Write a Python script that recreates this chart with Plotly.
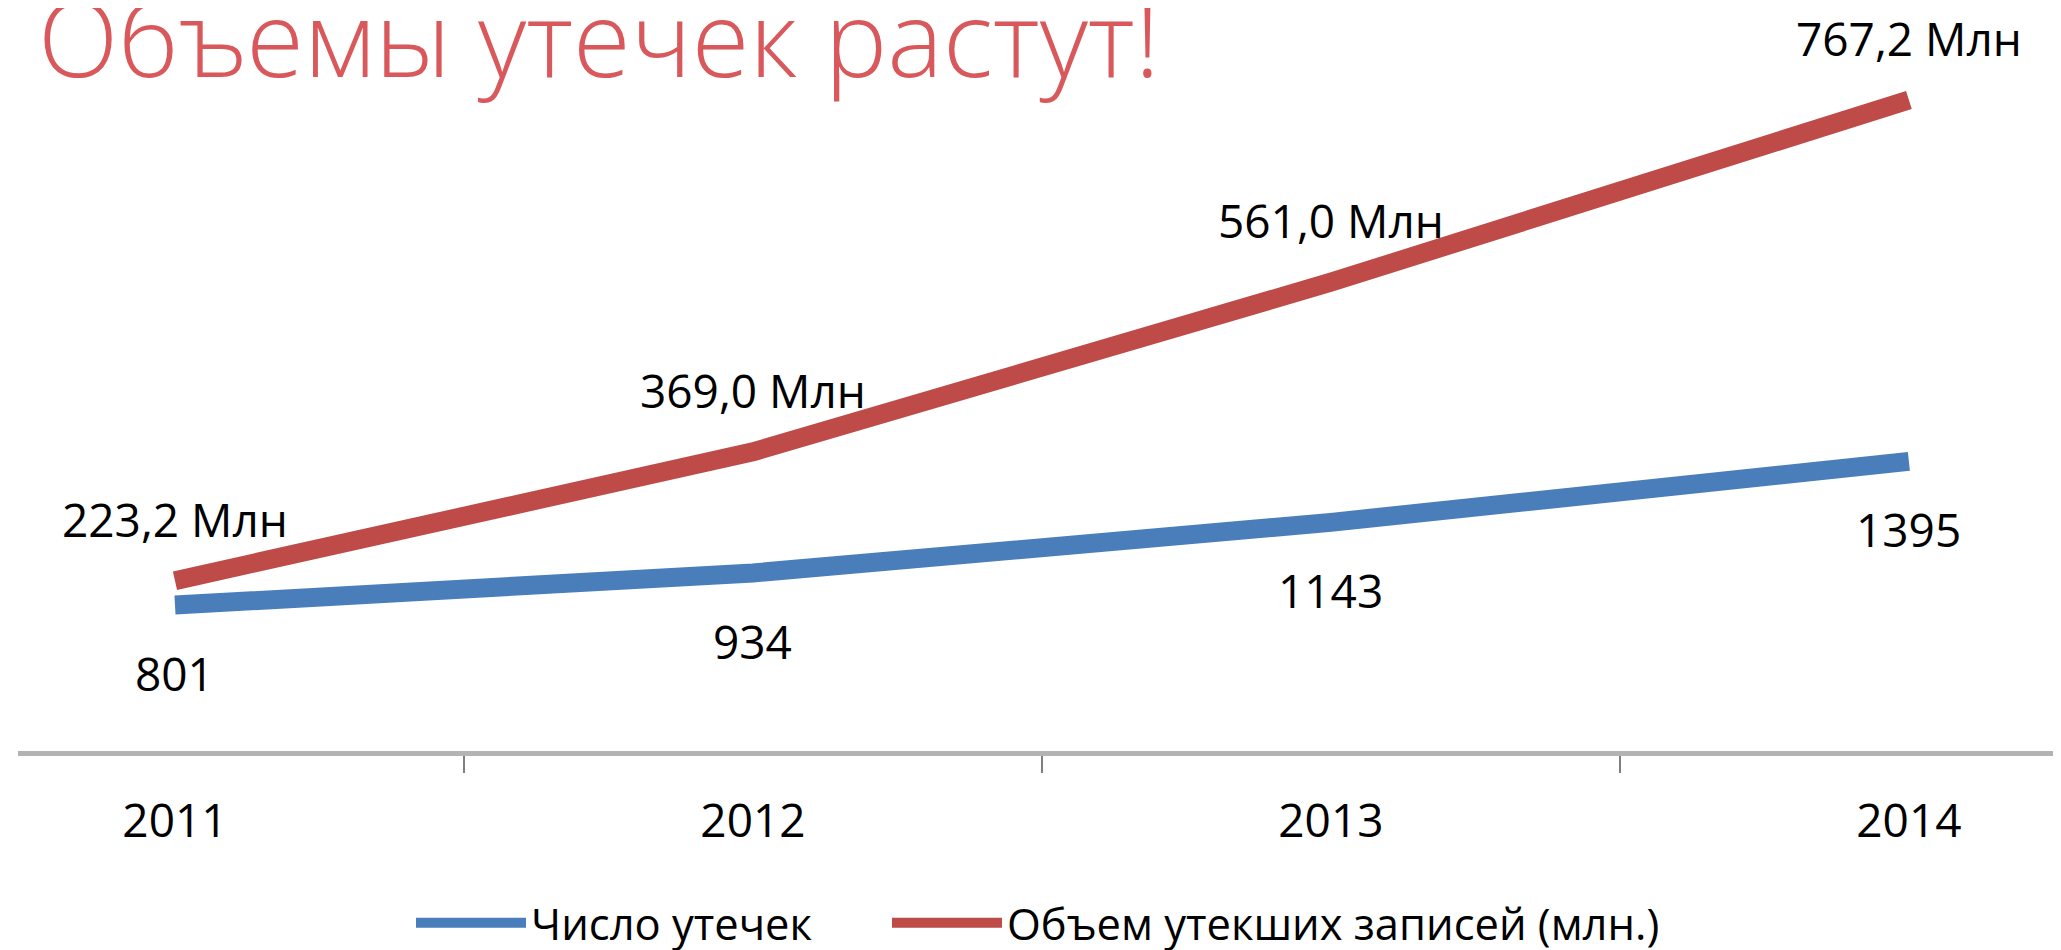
import plotly.graph_objects as go

W, H = 2061, 950

years = ["2011", "2012", "2013", "2014"]
leaks = [801, 934, 1143, 1395]
records = [223.2, 369.0, 561.0, 767.2]
leak_labels = ["801", "934", "1143", "1395"]
record_labels = ["223,2 Млн", "369,0 Млн", "561,0 Млн", "767,2 Млн"]

title_text = "Объемы утечек растут!"
name_leaks = "Число утечек"
name_records = "Объем утекших записей (млн.)"

BLUE = "#4a7ebb"
RED = "#be4b48"
TITLE_RED = "#d9585b"
FONT = "Open Sans"


def px(x):
    return x / W


def py(y):
    return 1 - y / H


fig = go.Figure()
fig.add_trace(go.Scatter(
    x=years, y=leaks, name=name_leaks, mode="lines",
    line=dict(color=BLUE, width=19), yaxis="y", hoverinfo="skip", legend="legend",
))
fig.add_trace(go.Scatter(
    x=years, y=records, name=name_records, mode="lines",
    line=dict(color=RED, width=19), yaxis="y2", hoverinfo="skip", legend="legend2",
))

annotations = []
# category axes position annotations by category index
for i, (v, t) in enumerate(zip(leaks, leak_labels)):
    annotations.append(dict(x=i, y=v, xref="x", yref="y", text=t, showarrow=False,
                            yshift=-68, font=dict(family=FONT, size=46, color="#000000"),
                            xanchor="center", yanchor="middle"))
for i, (v, t) in enumerate(zip(records, record_labels)):
    annotations.append(dict(x=i, y=v, xref="x", yref="y2", text=t, showarrow=False,
                            yshift=62, font=dict(family=FONT, size=46, color="#000000"),
                            xanchor="center", yanchor="middle"))
annotations.append(dict(x=px(28), y=py(29), xref="paper", yref="paper", text=title_text,
                        showarrow=False, xanchor="left", yanchor="middle",
                        font=dict(family=FONT, size=105, color=TITLE_RED, weight=300)))

legend_common = dict(orientation="h", yanchor="middle", y=py(927),
                     font=dict(family=FONT, size=43.5, color="#000000"), itemwidth=110,
                     bgcolor="rgba(0,0,0,0)")

fig.update_layout(
    width=W, height=H,
    margin=dict(l=0, r=0, t=0, b=0),
    paper_bgcolor="white", plot_bgcolor="white",
    showlegend=True,
    legend=dict(x=px(403), xanchor="left", **legend_common),
    legend2=dict(x=px(879), xanchor="left", **legend_common),
    xaxis=dict(type="category", domain=[px(10), 1], range=[-0.2716, 3.277],
               showline=True, linecolor="#b3b3b3", linewidth=5,
               ticks="outside", tickson="boundaries", ticklen=17, tickwidth=1.5, tickcolor="#7f7f7f",
               showgrid=False, zeroline=False,
               tickfont=dict(family=FONT, size=46, color="#000000"), ticklabelstandoff=25),
    yaxis=dict(domain=[py(753), 1], range=[196, 3269], visible=False),
    yaxis2=dict(domain=[py(753), 1], range=[29.9, 871.3], overlaying="y", visible=False),
    annotations=annotations,
)

fig.write_html("out.html")
